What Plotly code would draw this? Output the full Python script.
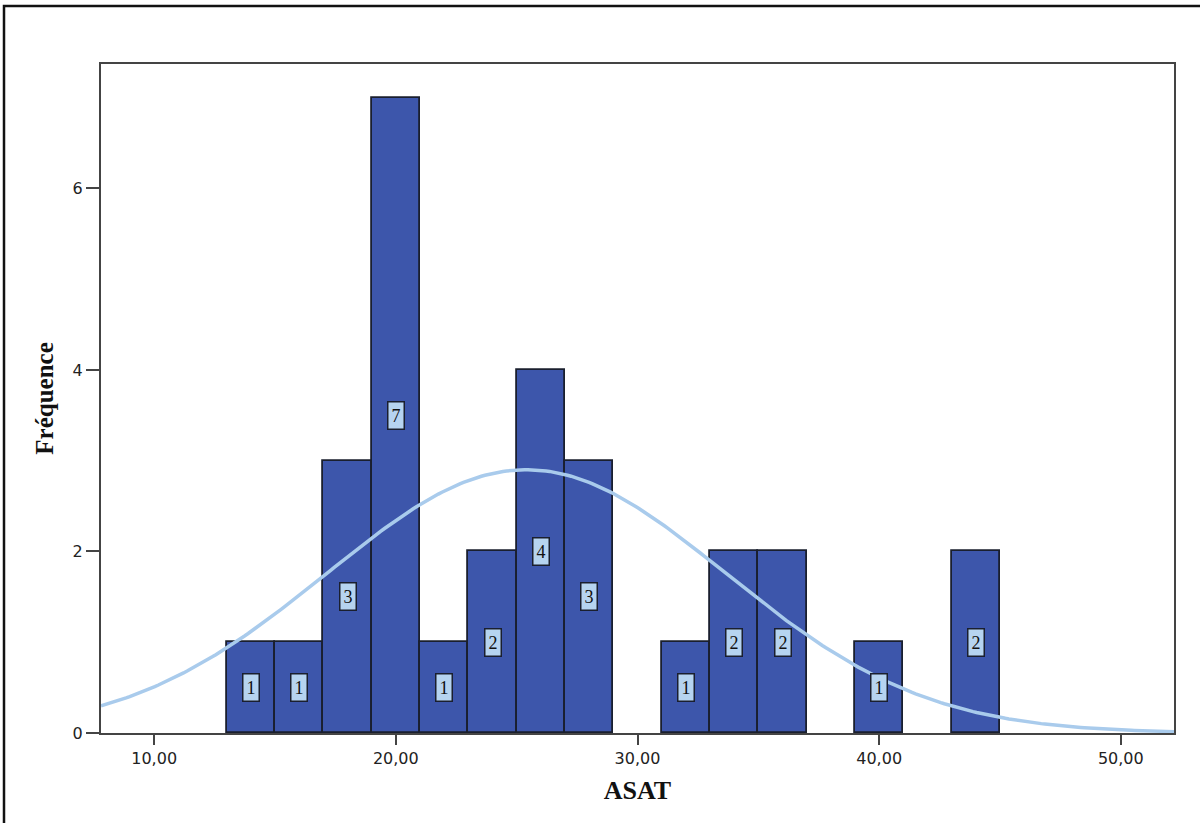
import numpy as np
import plotly.graph_objects as go

# Histogram of ASAT values (bin width 2)
bin_left = [13, 15, 17, 19, 21, 23, 25, 27, 29, 31, 33, 35, 37, 39, 41, 43]
counts = [1, 1, 3, 7, 1, 2, 4, 3, 0, 1, 2, 2, 0, 1, 0, 2]
bin_width = 2

# Fitted normal curve parameters
curve_mean = 25.4
curve_sd = 8.25
n_total = sum(counts)

x_ticks = [10, 20, 30, 40, 50]
y_ticks = [0, 2, 4, 6]

mids = [b + bin_width / 2 for b in bin_left]
outline_w = [1.8 if c > 0 else 0 for c in counts]

fig = go.Figure()
fig.add_trace(go.Bar(
    x=mids, y=counts, width=bin_width,
    marker=dict(color="#3d56ab", line=dict(color="#1a1f2e", width=outline_w)),
    hoverinfo="x+y", showlegend=False,
))

xs = np.linspace(7.8, 52.2, 300)
ys = n_total * bin_width / (curve_sd * np.sqrt(2 * np.pi)) * np.exp(-0.5 * ((xs - curve_mean) / curve_sd) ** 2)
fig.add_trace(go.Scatter(
    x=xs, y=ys, mode="lines",
    line=dict(color="#a9cbec", width=3.5),
    showlegend=False, hoverinfo="skip",
))

for m, c in zip(mids, counts):
    if c > 0:
        fig.add_annotation(
            x=m, y=c / 2, text=str(c), showarrow=False,
            font=dict(family="Liberation Serif, serif", size=18, color="#111"),
            bgcolor="#b6d4f0", bordercolor="#1a1f2e", borderwidth=1.5, borderpad=3,
        )

axis_font = dict(family="DejaVu Sans, sans-serif", size=16, color="#222")
title_font = dict(family="Liberation Serif, serif", size=25, color="#111")
fig.update_layout(
    width=1200, height=823,
    margin=dict(l=101, r=26, t=64, b=90),
    paper_bgcolor="white", plot_bgcolor="white",
    separators=", ",
    bargap=0,
    xaxis=dict(
        range=[7.8, 52.2], tickvals=x_ticks, tickformat=".2f",
        ticks="outside", ticklen=10, tickwidth=2, tickcolor="#444",
        showgrid=False, zeroline=False,
        showline=True, linecolor="#444", linewidth=2, mirror=True,
        tickfont=axis_font,
        title=dict(text="<b>ASAT</b>", font=dict(family="Liberation Serif, serif", size=26, color="#111"), standoff=14),
    ),
    yaxis=dict(
        range=[0, 7.37], tickvals=y_ticks,
        ticks="outside", ticklen=13, tickwidth=2, tickcolor="#444",
        showgrid=False, zeroline=False,
        showline=True, linecolor="#444", linewidth=2, mirror=True,
        tickfont=axis_font,
        title=dict(text="<b>Fréquence</b>", font=title_font, standoff=12),
    ),
)

# Outer frame around the whole figure
fig.add_shape(type="rect", xref="paper", yref="paper",
              x0=-97 / 1073, x1=1.2, y0=-0.2, y1=1 + 58 / 669,
              line=dict(color="#111", width=2.5), fillcolor="rgba(0,0,0,0)", layer="below")

fig.write_html("out.html")
